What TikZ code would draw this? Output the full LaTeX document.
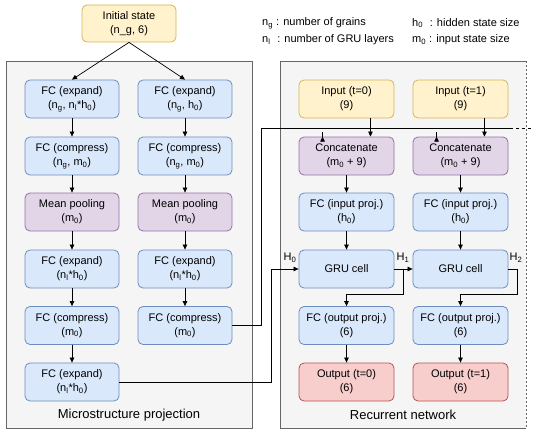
\documentclass[tikz,border=0pt]{standalone}
\usepackage{fontspec}
\setmainfont{Liberation Sans}
\usetikzlibrary{arrows.meta,calc}
\definecolor{bluef}{HTML}{DAE8FC}\definecolor{blued}{HTML}{6C8EBF}
\definecolor{purpf}{HTML}{E1D5E7}\definecolor{purpd}{HTML}{9673A6}
\definecolor{yelf}{HTML}{FFF2CC}\definecolor{yeld}{HTML}{D6B656}
\definecolor{redf}{HTML}{F8CECC}\definecolor{redd}{HTML}{B85450}
\definecolor{panf}{HTML}{F5F5F5}\definecolor{pand}{HTML}{666666}
\begin{document}
\begin{tikzpicture}[x=1pt,y=-1pt,font=\fontsize{11}{14}\selectfont,
  box/.style={draw, rounded corners=5pt, minimum width=94pt, minimum height=38pt, align=center, inner sep=0pt, line width=0.8pt},
  bluebox/.style={box, fill=bluef, draw=blued},
  purpbox/.style={box, fill=purpf, draw=purpd},
  yelbox/.style={box, fill=yelf, draw=yeld},
  redbox/.style={box, fill=redf, draw=redd},
  conn/.style={-{Triangle[length=5pt,width=4.5pt]}, line width=0.7pt},
  wire/.style={line width=0.7pt},
  panel/.style={fill=panf},
  panelline/.style={draw=pand, line width=0.8pt},
  lbl/.style={inner sep=0pt},
  plbl/.style={inner sep=0pt, font=\fontsize{13}{15}\selectfont}]
\useasboundingbox (0,0) rectangle (534,436);
% panels
\fill[panel] (6,61) rectangle (252,428);
\draw[panelline] (6,61) rectangle (252,428);
\fill[panel] (280,61) rectangle (526,428);
\draw[panelline] (526,61) -- (280,61) -- (280,428) -- (526,428);
\draw[panelline, dashed, dash pattern=on 2pt off 2pt] (526,61) -- (526,428);
\node[plbl] (lp) at (129,415) {Microstructure projection};
\node[plbl] (rp) at (403,415) {Recurrent network};
% legend
\node[lbl, anchor=west] (lg1) at (262,23) {n\textsubscript{g} : number of grains};
\node[lbl, anchor=west] (lg2) at (262,40) {n\textsubscript{l}\,\, : number of GRU layers};
\node[lbl, anchor=west] (lg3) at (412,23) {h\textsubscript{0}\,\, : hidden state size};
\node[lbl, anchor=west] (lg4) at (412,40) {m\textsubscript{0} : input state size};
% initial
\node[yelbox, minimum height=37pt] (init) at (129,23.5) {Initial state\\(n\_g, 6)};
% left columns
\node[bluebox] (a1) at (72,99) {FC (expand)\\(n\textsubscript{g}, n\textsubscript{l}*h\textsubscript{0})};
\node[bluebox] (a2) at (72,156) {FC (compress)\\(n\textsubscript{g}, m\textsubscript{0})};
\node[purpbox] (a3) at (72,212) {Mean pooling\\(m\textsubscript{0})};
\node[bluebox] (a4) at (72,269) {FC (expand)\\(n\textsubscript{l}*h\textsubscript{0})};
\node[bluebox] (a5) at (72,325.5) {FC (compress)\\(m\textsubscript{0})};
\node[bluebox] (a6) at (72,382) {FC (expand)\\(n\textsubscript{l}*h\textsubscript{0})};
\node[bluebox] (b1) at (185,99) {FC (expand)\\(n\textsubscript{g}, h\textsubscript{0})};
\node[bluebox] (b2) at (185,156) {FC (compress)\\(n\textsubscript{g}, m\textsubscript{0})};
\node[purpbox] (b3) at (185,212) {Mean pooling\\(m\textsubscript{0})};
\node[bluebox] (b4) at (185,269) {FC (expand)\\(n\textsubscript{l}*h\textsubscript{0})};
\node[bluebox] (b5) at (185,325.5) {FC (compress)\\(m\textsubscript{0})};
% right columns
\node[yelbox, minimum width=95pt] (i1) at (346.5,99) {Input (t=0)\\(9)};
\node[purpbox, minimum width=95pt] (c1) at (346.5,156) {Concatenate\\(m\textsubscript{0} + 9)};
\node[bluebox, minimum width=95pt] (p1) at (346.5,212) {FC (input proj.)\\(h\textsubscript{0})};
\node[bluebox, minimum width=95pt] (g1) at (346.5,269) {GRU cell};
\node[bluebox, minimum width=95pt] (o1) at (346.5,325.5) {FC (output proj.)\\(6)};
\node[redbox, minimum width=95pt] (r1) at (346.5,382) {Output (t=0)\\(6)};
\node[yelbox, minimum width=95pt] (i2) at (460.5,99) {Input (t=1)\\(9)};
\node[purpbox, minimum width=95pt] (c2) at (460.5,156) {Concatenate\\(m\textsubscript{0} + 9)};
\node[bluebox, minimum width=95pt] (p2) at (460.5,212) {FC (input proj.)\\(h\textsubscript{0})};
\node[bluebox, minimum width=95pt] (g2) at (460.5,269) {GRU cell};
\node[bluebox, minimum width=95pt] (o2) at (460.5,325.5) {FC (output proj.)\\(6)};
\node[redbox, minimum width=95pt] (r2) at (460.5,382) {Output (t=1)\\(6)};
% arrows left
\draw[conn] (init.south) -- (a1.north);
\draw[conn] (init.south) -- (b1.north);
\foreach \u/\v in {a1/a2,a2/a3,a3/a4,a4/a5,a5/a6,b1/b2,b2/b3,b3/b4,b4/b5,c1/p1,p1/g1,o1/r1,c2/p2,p2/g2,o2/r2}
  \draw[conn] (\u.south) -- (\v.north);
% input arrows
\draw[conn] ($(i1.south west)!0.75!(i1.south east)$) -- ($(c1.north west)!0.75!(c1.north east)$);
\draw[conn] ($(i2.south west)!0.75!(i2.south east)$) -- ($(c2.north west)!0.75!(c2.north east)$);
% microstructure to concat
\coordinate (bus) at (261,128);
\coordinate (busend) at (510,128);
\coordinate (edge) at (534,128);
\draw[wire] (b5.east) -| (bus) -- (busend);
\draw[wire, dashed, dash pattern=on 3pt off 3pt] (busend) -- (edge);
\draw[conn] ($(c1.north west)!0.25!(c1.north east)$ |- bus) -- ($(c1.north west)!0.25!(c1.north east)$);
\draw[conn] ($(c2.north west)!0.25!(c2.north east)$ |- bus) -- ($(c2.north west)!0.25!(c2.north east)$);
% H0
\coordinate (h0x) at (271,0);
\draw[conn] (a6.east) -| (h0x |- g1.west) -- (g1.west);
\node[lbl] (H0) at (290,258) {H\textsubscript{0}};
% H1
\draw[conn] (g1.east) -- (g2.west);
\coordinate (h1x) at (403,294);
\draw[conn] (h1x |- g1.east) -- (h1x) -| (o1.north);
\node[lbl] (H1) at (403,258) {H\textsubscript{1}};
% H2
\coordinate (h2x) at (517,294);
\draw[conn] (g2.east) -| (h2x) -| (o2.north);
\node[lbl] (H2) at (516,258) {H\textsubscript{2}};
\end{tikzpicture}
\end{document}
